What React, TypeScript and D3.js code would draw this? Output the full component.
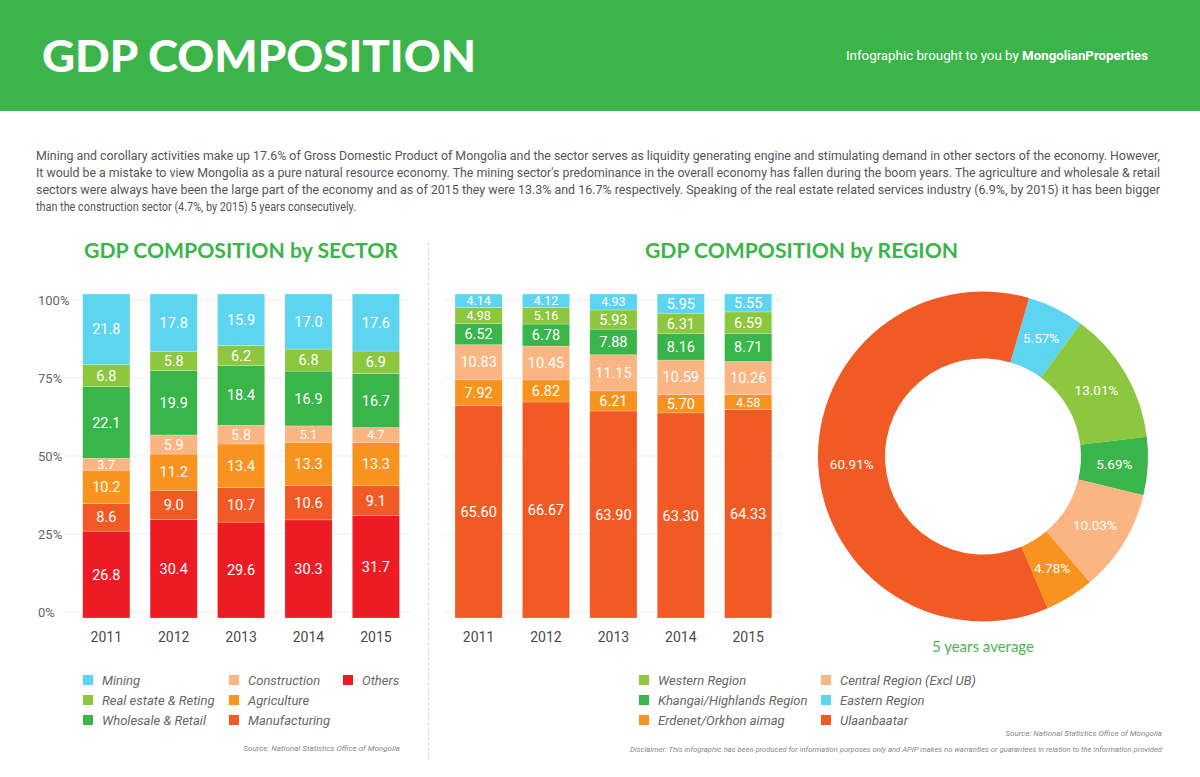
import React from 'react';
import * as d3 from 'd3';

const years = ['2011', '2012', '2013', '2014', '2015'];

const sectorKeys = ['Others', 'Manufacturing', 'Agriculture', 'Construction', 'Wholesale & Retail', 'Real estate & Reting', 'Mining'];
const others = [26.8, 30.4, 29.6, 30.3, 31.7];
const manufacturing = [8.6, 9.0, 10.7, 10.6, 9.1];
const agriculture = [10.2, 11.2, 13.4, 13.3, 13.3];
const construction = [3.7, 5.9, 5.8, 5.1, 4.7];
const wholesale = [22.1, 19.9, 18.4, 16.9, 16.7];
const realEstate = [6.8, 5.8, 6.2, 6.8, 6.9];
const mining = [21.8, 17.8, 15.9, 17.0, 17.6];

const regionKeys = ['Ulaanbaatar', 'Erdenet/Orkhon aimag', 'Central Region (Excl UB)', 'Khangai/Highlands Region', 'Western Region', 'Eastern Region'];
const ulaanbaatar = [65.6, 66.67, 63.9, 63.3, 64.33];
const erdenet = [7.92, 6.82, 6.21, 5.7, 4.58];
const central = [10.83, 10.45, 11.15, 10.59, 10.26];
const khangai = [6.52, 6.78, 7.88, 8.16, 8.71];
const western = [4.98, 5.16, 5.93, 6.31, 6.59];
const eastern = [4.14, 4.12, 4.93, 5.95, 5.55];

const donutKeys = ['Eastern Region', 'Western Region', 'Khangai/Highlands Region', 'Central Region (Excl UB)', 'Erdenet/Orkhon aimag', 'Ulaanbaatar'];
const donutValues = [5.57, 13.01, 5.69, 10.03, 4.78, 60.91];

const axisTicks = [0, 25, 50, 75, 100];

const sectorLegend = ['Mining', 'Real estate & Reting', 'Wholesale & Retail', 'Construction', 'Agriculture', 'Manufacturing', 'Others'];
const regionLegend = ['Western Region', 'Khangai/Highlands Region', 'Erdenet/Orkhon aimag', 'Central Region (Excl UB)', 'Eastern Region', 'Ulaanbaatar'];

const paragraph = [
  'Mining and corollary activities make up 17.6% of Gross Domestic Product of Mongolia and the sector serves as liquidity generating engine and stimulating demand in other sectors of the economy. However,',
  "It would be a mistake to view Mongolia as a pure natural resource economy. The mining sector's predominance in the overall economy has fallen during the boom years. The agriculture and wholesale & retail",
  'sectors were always have been the large part of the economy and as of 2015 they were 13.3% and 16.7% respectively. Speaking of the real estate related services industry (6.9%, by 2015) it has been bigger',
  'than the construction sector (4.7%, by 2015) 5 years consecutively.',
];

const COLORS: Record<string, string> = {
  Mining: '#5dd5f1',
  'Real estate & Reting': '#8dc63f',
  'Wholesale & Retail': '#39b54a',
  Construction: '#fbb583',
  Agriculture: '#f7931e',
  Manufacturing: '#f15a24',
  Others: '#ed1c24',
  'Eastern Region': '#5dd5f1',
  'Western Region': '#8dc63f',
  'Khangai/Highlands Region': '#39b54a',
  'Central Region (Excl UB)': '#fbb583',
  'Erdenet/Orkhon aimag': '#f7931e',
  Ulaanbaatar: '#f15a24',
};

const GREEN = '#3bb54a';
const BODY_FONT = 'Roboto, "Liberation Sans", sans-serif';
const TITLE_FONT = 'Lato, "Open Sans", sans-serif';

const sectorSeries = [others, manufacturing, agriculture, construction, wholesale, realEstate, mining];
const regionSeries = [ulaanbaatar, erdenet, central, khangai, western, eastern];

function buildRows(keys: string[], series: number[][]) {
  return years.map((y, i) => {
    const row: any = { year: y };
    keys.forEach((k, j) => (row[k] = series[j][i]));
    return row;
  });
}

function StackedBars({ keys, series, x0, x1, digits, showAxis }: any) {
  const rows = buildRows(keys, series);
  const stack = d3.stack<any>().keys(keys)(rows);
  const x = d3.scaleBand().domain(years).range([x0, x1]).paddingInner(0.3).paddingOuter(0.15);
  const yBar = d3.scaleLinear().domain([0, 100]).range([618, 294]);
  const yAxis = d3.scaleLinear().domain([0, 100]).range([612, 300]);
  const gridX0 = showAxis ? 64 : x0 - 2;
  const gridX1 = x1;
  return (
    <g>
      {axisTicks.map((t) => (
        <g key={t}>
          <line x1={gridX0} x2={gridX1} y1={yAxis(t)} y2={yAxis(t)} stroke="#ececec" strokeWidth={1} />
          {showAxis && (
            <text x={38} y={yAxis(t)} dy="0.35em" fontSize={13} fill="#666" fontFamily={BODY_FONT}>
              {t}%
            </text>
          )}
        </g>
      ))}
      {stack.map((layer) => (
        <g key={layer.key} fill={COLORS[layer.key]}>
          {layer.map((d: any) => {
            const yTop = yBar(d[1]);
            const yBot = yBar(d[0]);
            const h = yBot - yTop;
            const xx = x(d.data.year)!;
            return (
              <g key={d.data.year}>
                <rect x={xx} y={yTop} width={x.bandwidth()} height={h} stroke="#ffffff" strokeOpacity={0.35} strokeWidth={0.6} />
                <text
                  x={xx + x.bandwidth() / 2}
                  y={(yTop + yBot) / 2}
                  dy="0.35em"
                  textAnchor="middle"
                  fill="#fff"
                  fontSize={h >= 17 ? 14.5 : 12.5}
                  fontFamily={BODY_FONT}
                >
                  {(d.data[layer.key] as number).toFixed(digits)}
                </text>
              </g>
            );
          })}
        </g>
      ))}
      {years.map((y) => (
        <text
          key={y}
          x={x(y)! + x.bandwidth() / 2}
          y={637}
          dy="0.35em"
          textAnchor="middle"
          fontSize={14}
          fill="#4a4a4a"
          fontFamily={BODY_FONT}
        >
          {y}
        </text>
      ))}
    </g>
  );
}

function Legend({ items, cols, rowY }: any) {
  return (
    <g>
      {items.map((name: string, i: number) => {
        const c = cols[i];
        const y = rowY[i];
        return (
          <g key={name}>
            <rect x={c} y={y - 5} width={10} height={10} fill={COLORS[name]} />
            <text x={c + 19} y={y} dy="0.35em" fontSize={13} fontStyle="italic" fill="#666" fontFamily={BODY_FONT}>
              {name}
            </text>
          </g>
        );
      })}
    </g>
  );
}

function Donut() {
  const cx = 983;
  const cy = 456.5;
  const start = 0.283;
  const pie = d3.pie<number>().sort(null).value((d) => d).startAngle(start).endAngle(start + 2 * Math.PI);
  const arcs = pie(donutValues);
  const arc = d3.arc<any>().innerRadius(98).outerRadius(165);
  const labelArc = d3.arc<any>().innerRadius(131.5).outerRadius(131.5);
  return (
    <g transform={`translate(${cx},${cy})`}>
      {arcs.map((a, i) => (
        <path key={donutKeys[i]} d={arc(a)!} fill={COLORS[donutKeys[i]]} />
      ))}
      {arcs.map((a, i) => {
        const [lx, ly] = labelArc.centroid(a);
        return (
          <text key={'l' + i} x={lx} y={ly} dy="0.35em" textAnchor="middle" fill="#fff" fontSize={13.5} fontFamily={BODY_FONT}>
            {donutValues[i].toFixed(2)}%
          </text>
        );
      })}
    </g>
  );
}

export default function App() {
  const sectorCols = [83, 83, 83, 229, 229, 229, 343];
  const sectorRows = [680, 700, 720, 680, 700, 720, 680];
  const regionCols = [639, 639, 639, 821, 821, 821];
  const regionRows = [680, 700, 720, 680, 700, 720];
  return (
    <svg
      width={1200}
      height={777}
      viewBox="0 0 1200 777"
      style={{ position: 'absolute', left: 0, top: 0, display: 'block', background: '#fff' }}
    >
      <rect x={0} y={0} width={1200} height={777} fill="#fff" />
      <rect x={0} y={0} width={1200} height={111} fill={GREEN} />
      <text x={42} y={72} fontSize={44} fontWeight={900} fill="#fff" fontFamily={TITLE_FONT} textLength={434} lengthAdjust="spacingAndGlyphs">
        GDP COMPOSITION
      </text>
      <text x={846} y={60} fontSize={13} fill="#fff" fontFamily={BODY_FONT} textLength={302} lengthAdjust="spacingAndGlyphs">
        <tspan>Infographic brought to you by </tspan>
        <tspan fontWeight={700}>MongolianProperties</tspan>
      </text>

      {paragraph.map((line, i) => (
        <text
          key={i}
          x={36}
          y={160 + i * 17}
          fontSize={12}
          fill="#555"
          fontFamily={BODY_FONT}
          textLength={i < 3 ? 1124 : 320}
          lengthAdjust="spacingAndGlyphs"
        >
          {line}
        </text>
      ))}

      <text x={84} y={258} fontSize={21} fontWeight={700} fill={GREEN} fontFamily={TITLE_FONT} textLength={314} lengthAdjust="spacingAndGlyphs">
        GDP COMPOSITION by SECTOR
      </text>
      <text x={645} y={258} fontSize={21} fontWeight={700} fill={GREEN} fontFamily={TITLE_FONT} textLength={313} lengthAdjust="spacingAndGlyphs">
        GDP COMPOSITION by REGION
      </text>

      <line x1={428.5} x2={428.5} y1={243} y2={760} stroke="#cfcfcf" strokeWidth={1} strokeDasharray="2,3" />

      <StackedBars keys={sectorKeys} series={sectorSeries} x0={72.6} x1={409.6} digits={1} showAxis={true} />
      <StackedBars keys={regionKeys} series={regionSeries} x0={444.9} x1={781.9} digits={2} showAxis={false} />

      <Donut />
      <text x={983} y={647} dy="0.35em" textAnchor="middle" fontSize={15} fill="#4cb54f" fontFamily={TITLE_FONT}>
        5 years average
      </text>

      <Legend items={sectorLegend} cols={sectorCols} rowY={sectorRows} />
      <Legend items={regionLegend} cols={regionCols} rowY={regionRows} />

      <text x={400} y={751} textAnchor="end" fontSize={8} fontStyle="italic" fill="#888" fontFamily={BODY_FONT}>
        Source: National Statistics Office of Mongolia
      </text>
      <text x={1162} y={736} textAnchor="end" fontSize={8} fontStyle="italic" fill="#888" fontFamily={BODY_FONT}>
        Source: National Statistics Office of Mongolia
      </text>
      <text x={630} y={752} fontSize={8} fontStyle="italic" fill="#888" fontFamily={BODY_FONT} textLength={532} lengthAdjust="spacingAndGlyphs">
        Disclaimer: This infographic has been produced for information purposes only and APIP makes no warranties or guarantees in relation to the information provided
      </text>
    </svg>
  );
}
